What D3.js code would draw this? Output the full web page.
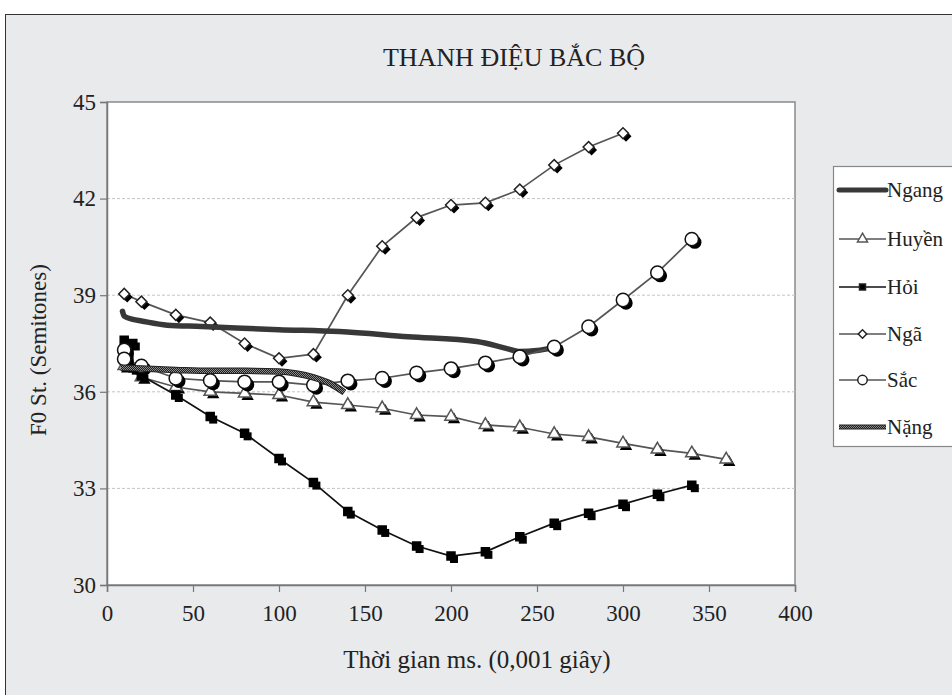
<!DOCTYPE html>
<html>
<head>
<meta charset="utf-8">
<script src="https://cdn.jsdelivr.net/npm/d3@7"></script>
<style>
  body { margin: 0; background: #fff; }
  text { font-family: "Liberation Serif", "DejaVu Serif", serif; fill: #222; }
</style>
</head>
<body>
<div id="chart"></div>
<script>
// Data (time in ms, F0 in semitones)
const ngangT = [9, 10, 15, 20, 35, 55, 75, 100, 135, 175, 215, 232, 240, 250, 260];
const ngangV = [38.5, 38.35, 38.25, 38.2, 38.07, 38.03, 37.98, 37.93, 37.87, 37.71, 37.56, 37.35, 37.25, 37.28, 37.38];

const huyenT = [10, 20, 40, 60, 80, 100, 120, 140, 160, 180, 200, 220, 240, 260, 280, 300, 320, 340, 360];
const huyenV = [36.8, 36.45, 36.15, 36.0, 35.95, 35.9, 35.68, 35.59, 35.49, 35.28, 35.23, 34.97, 34.9, 34.69, 34.6, 34.4, 34.21, 34.09, 33.9];

const hoiT = [10, 15, 15, 20, 40, 60, 80, 100, 120, 140, 160, 180, 200, 220, 240, 260, 280, 300, 320, 340];
const hoiV = [37.6, 37.5, 36.75, 36.5, 35.9, 35.23, 34.71, 33.93, 33.18, 32.28, 31.71, 31.21, 30.9, 31.03, 31.5, 31.92, 32.23, 32.51, 32.82, 33.1];

const ngaT = [10, 20, 40, 60, 80, 100, 120, 140, 160, 180, 200, 220, 240, 260, 280, 300];
const ngaV = [39.04, 38.8, 38.39, 38.15, 37.5, 37.04, 37.17, 39.0, 40.52, 41.41, 41.8, 41.87, 42.28, 43.04, 43.6, 44.03];

const sacT = [10, 10, 20, 40, 60, 80, 100, 120, 140, 160, 180, 200, 220, 240, 260, 280, 300, 320, 340];
const sacV = [37.3, 37.02, 36.8, 36.42, 36.35, 36.31, 36.31, 36.21, 36.34, 36.42, 36.59, 36.72, 36.9, 37.09, 37.39, 38.02, 38.85, 39.7, 40.74];

const nangT = [8, 20, 40, 60, 80, 100, 110, 120, 130, 138];
const nangV = [36.75, 36.72, 36.68, 36.65, 36.65, 36.63, 36.57, 36.45, 36.25, 35.98];

const xTicks = [0, 50, 100, 150, 200, 250, 300, 350, 400];
const yTicks = [30, 33, 36, 39, 42, 45];
const legendNames = ["Ngang", "Huyền", "Hỏi", "Ngã", "Sắc", "Nặng"];

const width = 952;
const height = 695;
const plot = { left: 107, right: 795, top: 102, bottom: 585 };

const svg = d3.select("#chart")
  .append("svg")
  .attr("width", width)
  .attr("height", height);

// checker pattern for the Nặng line
const defs = svg.append("defs");
const pat = defs.append("pattern")
  .attr("id", "checker")
  .attr("patternUnits", "userSpaceOnUse")
  .attr("width", 2)
  .attr("height", 2);
pat.append("rect").attr("width", 2).attr("height", 2).attr("fill", "#1e1e1e");
pat.append("rect").attr("width", 1).attr("height", 1).attr("fill", "#8c8c8c");
pat.append("rect").attr("x", 1).attr("y", 1).attr("width", 1).attr("height", 1).attr("fill", "#8c8c8c");

// outer gray frame
svg.append("rect")
  .attr("x", 5.5).attr("y", 14.5)
  .attr("width", width).attr("height", height)
  .attr("fill", "#e9eaec")
  .attr("stroke", "#333")
  .attr("stroke-width", 1);

const x = d3.scaleLinear().domain([0, 400]).range([plot.left, plot.right]);
const y = d3.scaleLinear().domain([30, 45]).range([plot.bottom, plot.top]);

// plot area
svg.append("rect")
  .attr("x", plot.left).attr("y", plot.top)
  .attr("width", plot.right - plot.left)
  .attr("height", plot.bottom - plot.top)
  .attr("fill", "#fff")
  .attr("stroke", "#8a8a8a")
  .attr("stroke-width", 1.5);

// dashed gridlines
svg.append("g")
  .selectAll("line")
  .data(yTicks.filter(d => d > 30 && d < 45))
  .enter()
  .append("line")
  .attr("x1", plot.left).attr("x2", plot.right)
  .attr("y1", d => y(d)).attr("y2", d => y(d))
  .attr("stroke", "#c4c4c4")
  .attr("stroke-width", 1)
  .attr("stroke-dasharray", "3,2");

// axes
const xAxis = svg.append("g")
  .attr("transform", `translate(0,${plot.bottom})`)
  .call(d3.axisBottom(x).tickValues(xTicks).tickSize(7).tickPadding(13));
const yAxis = svg.append("g")
  .attr("transform", `translate(${plot.left},0)`)
  .call(d3.axisLeft(y).tickValues(yTicks).tickSize(7).tickPadding(4));

[xAxis, yAxis].forEach(g => {
  g.attr("font-family", null);
  g.select(".domain").attr("stroke", "#777").attr("stroke-width", 1.5);
  g.selectAll(".tick line").attr("stroke", "#777").attr("stroke-width", 1.2);
  g.selectAll(".tick text")
    .style("font-family", "'Liberation Serif', serif")
    .style("font-size", "23px")
    .attr("fill", "#222");
});

// titles
svg.append("text")
  .attr("x", 514).attr("y", 66)
  .attr("text-anchor", "middle")
  .style("font-size", "26px")
  .text("THANH ĐIỆU BẮC BỘ");

svg.append("text")
  .attr("x", 477).attr("y", 668)
  .attr("text-anchor", "middle")
  .style("font-size", "25px")
  .text("Thời gian ms. (0,001 giây)");

svg.append("text")
  .attr("transform", "translate(46,350) rotate(-90)")
  .attr("text-anchor", "middle")
  .style("font-size", "23px")
  .text("F0 St. (Semitones)");

// lines
const line = (ts, vs, curve) => d3.line()
  .x((d, i) => x(ts[i]))
  .y(d => y(d))
  .curve(curve || d3.curveLinear)(vs);

const g = svg.append("g");

const symSquare = d3.symbol().type(d3.symbolSquare).size(64);
const symCircle = d3.symbol().type(d3.symbolCircle).size(140);
const symTri = d3.symbol().type(d3.symbolTriangle).size(66);
const symDiamond = d3.symbol().type(d3.symbolSquare).size(60);

function drawSeries(ts, vs, color, sym, fill, stroke, rot) {
  g.append("path")
    .attr("d", line(ts, vs))
    .attr("fill", "none")
    .attr("stroke", color)
    .attr("stroke-width", 1.7);
  const pts = vs.map((v, i) => [x(ts[i]), y(v)]);
  // drop shadows
  g.append("g").selectAll("path")
    .data(pts).enter().append("path")
    .attr("d", sym())
    .attr("transform", d => `translate(${d[0] + 3},${d[1] + 3}) rotate(${rot || 0})`)
    .attr("fill", "#000");
  g.append("g").selectAll("path")
    .data(pts).enter().append("path")
    .attr("d", sym())
    .attr("transform", d => `translate(${d[0]},${d[1]}) rotate(${rot || 0})`)
    .attr("fill", fill)
    .attr("stroke", stroke)
    .attr("stroke-width", 1.5);
}

drawSeries(huyenT, huyenV, "#555", symTri, "#fff", "#555", 0);
drawSeries(hoiT, hoiV, "#111", symSquare, "#000", "#000", 0);
drawSeries(ngaT, ngaV, "#555", symDiamond, "#fff", "#222", 45);

// Ngang: thick dark line
g.append("path")
  .attr("d", line(ngangT, ngangV, d3.curveMonotoneX))
  .attr("fill", "none")
  .attr("stroke", "#383838")
  .attr("stroke-width", 5.5)
  .attr("stroke-linecap", "round");

drawSeries(sacT, sacV, "#555", symCircle, "#fff", "#111", 0);

// Nặng: patterned thick line
g.append("path")
  .attr("d", line(nangT, nangV, d3.curveMonotoneX))
  .attr("fill", "none")
  .attr("stroke", "#222")
  .attr("stroke-width", 6.5);
g.append("path")
  .attr("d", line(nangT, nangV, d3.curveMonotoneX))
  .attr("fill", "none")
  .attr("stroke", "url(#checker)")
  .attr("stroke-width", 4.5);

// Legend
const legend = svg.append("g");
legend.append("rect")
  .attr("x", 833.5).attr("y", 166.5)
  .attr("width", 140).attr("height", 280)
  .attr("fill", "#fff")
  .attr("stroke", "#888")
  .attr("stroke-width", 1.2);

const legendY = [190, 239, 287, 334, 380, 427];
const lx1 = 839, lx2 = 886, lxm = 862.5;

legendNames.forEach((name, i) => {
  const ly = legendY[i];
  if (name === "Ngang") {
    legend.append("line").attr("x1", lx1).attr("x2", lx2).attr("y1", ly).attr("y2", ly)
      .attr("stroke", "#383838").attr("stroke-width", 5).attr("stroke-linecap", "round");
  } else if (name === "Nặng") {
    legend.append("line").attr("x1", lx1).attr("x2", lx2).attr("y1", ly).attr("y2", ly)
      .attr("stroke", "#222").attr("stroke-width", 5);
    legend.append("line").attr("x1", lx1).attr("x2", lx2).attr("y1", ly).attr("y2", ly)
      .attr("stroke", "url(#checker)").attr("stroke-width", 3);
  } else {
    legend.append("line").attr("x1", lx1).attr("x2", lx2).attr("y1", ly).attr("y2", ly)
      .attr("stroke", name === "Hỏi" ? "#111" : "#555").attr("stroke-width", 1.5);
    let sym, fill = "#fff", stroke = "#222", rot = 0;
    if (name === "Huyền") { sym = d3.symbol().type(d3.symbolTriangle).size(44); stroke = "#555"; }
    if (name === "Hỏi") { sym = d3.symbol().type(d3.symbolSquare).size(36); fill = "#000"; }
    if (name === "Ngã") { sym = d3.symbol().type(d3.symbolSquare).size(36); rot = 45; }
    if (name === "Sắc") { sym = d3.symbol().type(d3.symbolCircle).size(70); }
    legend.append("path")
      .attr("d", sym())
      .attr("transform", `translate(${lxm},${ly}) rotate(${rot})`)
      .attr("fill", fill)
      .attr("stroke", stroke)
      .attr("stroke-width", 1.5);
  }
  legend.append("text")
    .attr("x", lx2 + 1)
    .attr("y", ly)
    .attr("dy", "0.35em")
    .style("font-size", "21px")
    .text(name);
});
</script>
</body>
</html>
